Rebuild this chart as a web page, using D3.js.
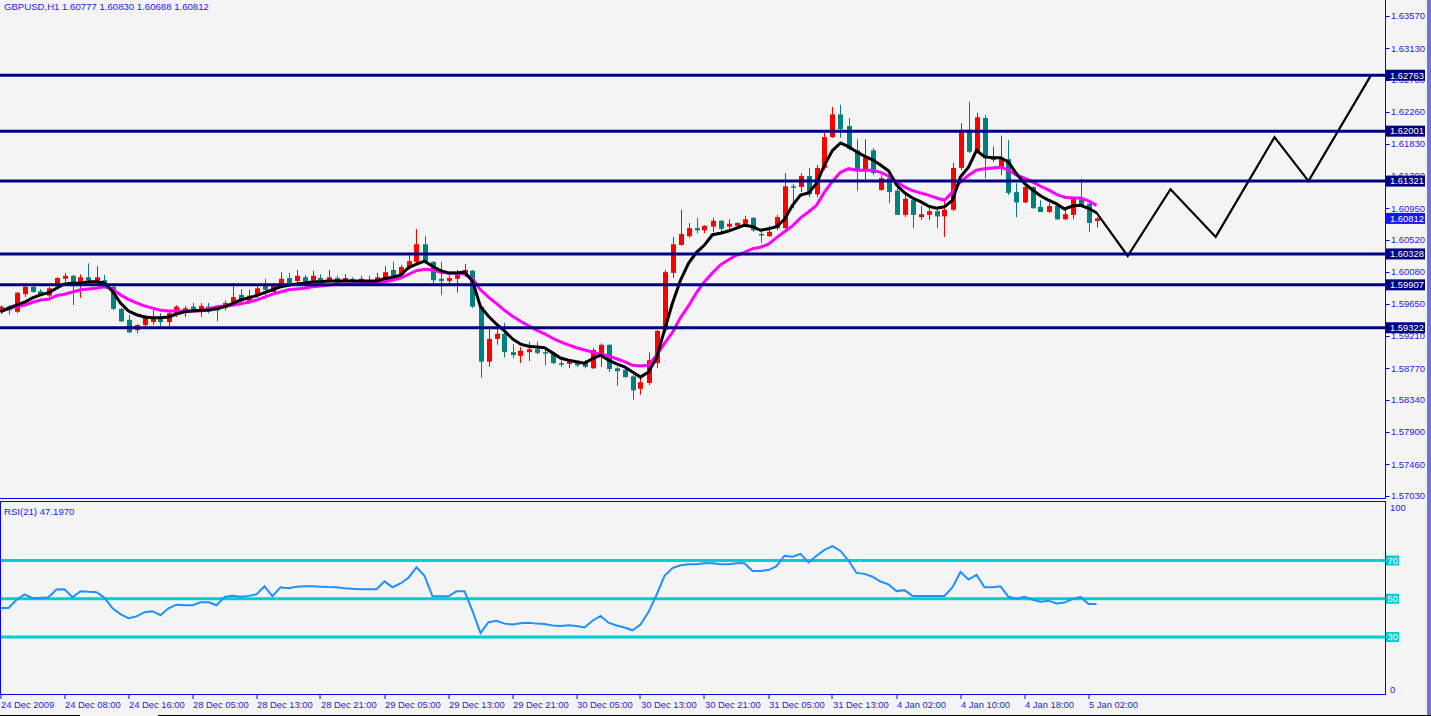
<!DOCTYPE html>
<html><head><meta charset="utf-8">
<script src="https://cdn.jsdelivr.net/npm/d3@7"></script>
<style>
html,body{margin:0;padding:0;background:#f5f4f4;overflow:hidden}
svg{display:block}
text{font-family:"Liberation Sans",Arial,sans-serif;}
</style></head><body><svg id="c" width="1431" height="716"></svg>
<script>
const titleText = "GBPUSD,H1  1.60777 1.60830 1.60688 1.60812";
const rsiTitle = "RSI(21) 47.1970";

const open = [1.5954,1.5961,1.5954,1.5978,1.5988,1.5982,1.5976,1.5989,1.5999,1.6003,
1.5992,1.6001,1.5995,1.5997,1.5988,1.5958,1.5943,1.5929,1.5936,1.5940,
1.5944,1.5940,1.5952,1.5954,1.5961,1.5958,1.5961,1.5961,1.5959,1.5966,
1.5977,1.5967,1.5976,1.5990,1.5981,1.5989,1.6000,1.5996,1.6001,1.5997,
1.6000,1.5996,1.6000,1.5996,1.5999,1.5996,1.5997,1.5996,1.6000,1.6011,
1.6004,1.6014,1.6022,1.6046,1.6022,1.5999,1.5996,1.5999,1.6005,1.6010,
1.5961,1.5886,1.5917,1.5924,1.5899,1.5894,1.5899,1.5903,1.5899,1.5898,
1.5884,1.5883,1.5886,1.5884,1.5877,1.5892,1.5909,1.5877,1.5875,1.5866,
1.5849,1.5857,1.5884,1.5929,1.6007,1.6045,1.6057,1.6068,1.6065,1.6070,
1.6078,1.6070,1.6071,1.6074,1.6082,1.6060,1.6057,1.6068,1.6068,1.6125,
1.6124,1.6139,1.6114,1.6150,1.6192,1.6223,1.6207,1.6174,1.6147,1.6174,
1.6120,1.6136,1.6119,1.6086,1.6106,1.6083,1.6086,1.6091,1.6084,1.6093,
1.6150,1.6202,1.6172,1.6218,1.6161,1.6150,1.6162,1.6117,1.6103,1.6124,
1.6097,1.6090,1.6098,1.6080,1.6086,1.6108,1.6101,1.60777];
const high = [1.5963,1.5963,1.5981,1.5993,1.5993,1.5985,1.5988,1.6001,1.6007,1.6004,
1.6005,1.6020,1.6016,1.6004,1.5990,1.5959,1.5950,1.5937,1.5950,1.5956,
1.5952,1.5956,1.5963,1.5962,1.5966,1.5966,1.5966,1.5962,1.5969,1.5993,
1.5985,1.5984,1.5990,1.5999,1.5993,1.6008,1.6007,1.6011,1.6004,1.6010,
1.6005,1.6011,1.6003,1.6005,1.6001,1.6003,1.6003,1.6007,1.6016,1.6022,
1.6018,1.6031,1.6067,1.6057,1.6023,1.6022,1.6004,1.6011,1.6019,1.6011,
1.5963,1.5933,1.5933,1.5939,1.5910,1.5906,1.5913,1.5913,1.5905,1.5899,
1.5888,1.5888,1.5887,1.5888,1.5905,1.5911,1.5910,1.5879,1.5876,1.5868,
1.5865,1.5899,1.5929,1.6011,1.6056,1.6093,1.6075,1.6082,1.6072,1.6082,
1.6079,1.6080,1.6076,1.6085,1.6083,1.6068,1.6071,1.6086,1.6143,1.6128,
1.6143,1.6150,1.6154,1.6198,1.6233,1.6236,1.6218,1.6189,1.6189,1.6177,
1.6140,1.6138,1.6123,1.6116,1.6109,1.6098,1.6098,1.6097,1.6106,1.6157,
1.6211,1.6240,1.6225,1.6222,1.6179,1.6194,1.6188,1.6129,1.6127,1.6125,
1.6106,1.6102,1.6102,1.6093,1.6110,1.6135,1.6106,1.60830];
const low = [1.5951,1.5950,1.5952,1.5974,1.5980,1.5976,1.5974,1.5988,1.5995,1.5963,
1.5973,1.5993,1.5993,1.5986,1.5956,1.5940,1.5925,1.5925,1.5932,1.5936,
1.5934,1.5934,1.5947,1.5947,1.5954,1.5947,1.5952,1.5941,1.5956,1.5963,
1.5966,1.5965,1.5973,1.5976,1.5980,1.5986,1.5989,1.5993,1.5988,1.5993,
1.5990,1.5993,1.5990,1.5993,1.5992,1.5993,1.5992,1.5993,1.5997,1.6000,
1.6001,1.6011,1.6020,1.6020,1.5993,1.5977,1.5990,1.5980,1.6004,1.5959,
1.5864,1.5879,1.5909,1.5892,1.5891,1.5884,1.5887,1.5896,1.5881,1.5883,
1.5879,1.5877,1.5879,1.5877,1.5876,1.5879,1.5872,1.5853,1.5864,1.5834,
1.5841,1.5854,1.5877,1.5926,1.6000,1.6044,1.6055,1.6061,1.6061,1.6063,
1.6063,1.6065,1.6070,1.6070,1.6063,1.6048,1.6056,1.6065,1.6067,1.6095,
1.6117,1.6110,1.6110,1.6147,1.6191,1.6191,1.6174,1.6119,1.6131,1.6140,
1.6119,1.6102,1.6086,1.6083,1.6068,1.6079,1.6079,1.6068,1.6056,1.6091,
1.6147,1.6170,1.6170,1.6136,1.6158,1.6140,1.6113,1.6083,1.6102,1.6095,
1.6090,1.6089,1.6079,1.6079,1.6080,1.6097,1.6063,1.60688];
const close = [1.5961,1.5956,1.5980,1.5988,1.5981,1.5978,1.5986,1.6000,1.6003,1.5989,
1.6001,1.5997,1.6001,1.5988,1.5958,1.5941,1.5926,1.5936,1.5946,1.5946,
1.5940,1.5952,1.5961,1.5959,1.5956,1.5962,1.5956,1.5956,1.5966,1.5974,
1.5970,1.5976,1.5986,1.5984,1.5990,1.5999,1.5993,1.6003,1.5992,1.6003,
1.5995,1.6001,1.5993,1.6000,1.5995,1.5999,1.5995,1.6001,1.6008,1.6003,
1.6015,1.6023,1.6046,1.6022,1.5997,1.5996,1.6000,1.6004,1.6011,1.5961,
1.5886,1.5917,1.5924,1.5899,1.5895,1.5901,1.5903,1.5898,1.5898,1.5884,
1.5883,1.5886,1.5881,1.5879,1.5902,1.5909,1.5876,1.5873,1.5865,1.5847,
1.5858,1.5888,1.5928,1.6008,1.6046,1.6060,1.6068,1.6065,1.6071,1.6078,
1.6067,1.6074,1.6075,1.6080,1.6065,1.6059,1.6063,1.6083,1.6125,1.6124,
1.6139,1.6114,1.6150,1.6192,1.6223,1.6203,1.6176,1.6147,1.6164,1.6143,
1.6136,1.6117,1.6086,1.6108,1.6086,1.6087,1.6091,1.6084,1.6093,1.6150,
1.6202,1.6172,1.6219,1.6164,1.6165,1.6164,1.6116,1.6103,1.6124,1.6095,
1.6090,1.6098,1.6080,1.6087,1.6108,1.6099,1.6075,1.60812];

// fast moving average (black) and slow moving average (magenta), one value per bar
const maFast = [1.5954,1.5959,1.5963,1.5967,1.5973,1.5977,1.5980,1.5986,1.5992,1.5993,
1.5993,1.5995,1.5995,1.5993,1.5982,1.5966,1.5955,1.5950,1.5947,1.5946,
1.5946,1.5947,1.5951,1.5954,1.5955,1.5956,1.5956,1.5958,1.5961,1.5965,
1.5970,1.5973,1.5976,1.5980,1.5984,1.5988,1.5990,1.5992,1.5993,1.5995,
1.5995,1.5996,1.5996,1.5996,1.5996,1.5996,1.5996,1.5996,1.5999,1.6001,
1.6004,1.6014,1.6019,1.6023,1.6016,1.6010,1.6007,1.6007,1.6008,1.5996,
1.5961,1.5948,1.5937,1.5928,1.5917,1.5910,1.5907,1.5906,1.5905,1.5898,
1.5891,1.5888,1.5886,1.5884,1.5890,1.5895,1.5888,1.5883,1.5879,1.5872,
1.5865,1.5872,1.5891,1.5929,1.5966,1.5997,1.6020,1.6035,1.6045,1.6059,
1.6061,1.6064,1.6068,1.6072,1.6070,1.6065,1.6067,1.6070,1.6080,1.6099,
1.6113,1.6116,1.6129,1.6154,1.6174,1.6184,1.6179,1.6172,1.6166,1.6161,
1.6154,1.6146,1.6127,1.6116,1.6109,1.6104,1.6098,1.6095,1.6097,1.6106,
1.6138,1.6151,1.6174,1.6165,1.6164,1.6164,1.6158,1.6142,1.6129,1.6120,
1.6112,1.6106,1.6101,1.6094,1.6098,1.6099,1.6095,1.6089];
const maSlow = [1.5955,1.5958,1.5961,1.5963,1.5967,1.5970,1.5971,1.5976,1.5978,1.5981,
1.5984,1.5985,1.5986,1.5988,1.5985,1.5977,1.5971,1.5966,1.5962,1.5959,
1.5956,1.5955,1.5955,1.5955,1.5955,1.5955,1.5958,1.5961,1.5962,1.5963,
1.5965,1.5967,1.5970,1.5974,1.5978,1.5981,1.5984,1.5985,1.5986,1.5988,
1.5989,1.5990,1.5992,1.5992,1.5992,1.5993,1.5993,1.5993,1.5995,1.5997,
1.6000,1.6005,1.6010,1.6012,1.6011,1.6008,1.6007,1.6007,1.6005,1.5999,
1.5984,1.5974,1.5965,1.5956,1.5948,1.5941,1.5935,1.5929,1.5924,1.5918,
1.5913,1.5909,1.5905,1.5902,1.5899,1.5896,1.5894,1.5890,1.5886,1.5881,
1.5880,1.5881,1.5895,1.5911,1.5926,1.5946,1.5962,1.5980,1.5995,1.6007,
1.6018,1.6025,1.6031,1.6035,1.6040,1.6042,1.6046,1.6055,1.6063,1.6071,
1.6082,1.6090,1.6099,1.6117,1.6132,1.6144,1.6149,1.6147,1.6147,1.6147,
1.6144,1.6139,1.6131,1.6124,1.6119,1.6116,1.6113,1.6109,1.6106,1.6117,
1.6131,1.6140,1.6147,1.6149,1.6150,1.6151,1.6147,1.6140,1.6136,1.6131,
1.6125,1.6120,1.6114,1.6110,1.6109,1.6109,1.6105,1.6099];

const rsi = [45.2,45.2,49.5,52.3,50.3,50.5,50.8,54.8,55.0,50.8,
53.9,53.6,53.4,50.5,45.0,42.0,39.8,40.8,43.0,43.5,
41.4,45.0,46.9,46.6,46.6,48.2,48.2,46.6,51.0,51.6,
51.0,51.5,52.3,56.5,51.3,56.0,55.5,56.3,56.5,56.5,
56.3,56.1,56.0,55.5,55.2,55.0,55.0,55.0,59.1,56.0,
58.0,61.0,66.4,62.0,51.3,51.3,51.3,53.9,53.9,43.5,
32.0,37.7,38.5,37.0,36.5,37.2,37.5,37.0,36.8,36.0,
35.8,36.2,35.8,35.0,38.5,41.0,37.5,36.0,35.0,33.5,
36.5,43.0,52.0,62.0,66.0,67.5,68.0,68.0,68.5,68.5,
68.0,68.0,68.5,68.5,64.5,64.5,65.0,67.0,72.5,72.0,
73.5,69.0,72.5,75.5,77.5,75.0,70.0,63.5,63.0,61.5,
59.0,57.5,54.0,54.5,51.5,51.5,51.5,51.5,51.5,56.0,
64.0,60.0,62.5,56.0,56.0,56.5,51.0,50.0,51.0,49.5,
48.5,49.0,47.5,48.0,49.8,51.0,47.2,47.2];

const levels = [1.62763,1.62001,1.61321,1.60328,1.59907,1.59322];
const lastPrice = 1.60812;
const priceTicks = [1.63570,1.63130,1.62700,1.62260,1.61830,1.61390,1.60950,1.60520,
1.60080,1.59650,1.59210,1.58770,1.58340,1.57900,1.57460,1.57030];
const rsiLevels = [70,50,30];
const timeLabels = ["24 Dec 2009","24 Dec 08:00","24 Dec 16:00","28 Dec 05:00","28 Dec 13:00",
"28 Dec 21:00","29 Dec 05:00","29 Dec 13:00","29 Dec 21:00","30 Dec 05:00","30 Dec 13:00",
"30 Dec 21:00","31 Dec 05:00","31 Dec 13:00","4 Jan 02:00","4 Jan 10:00","4 Jan 18:00","5 Jan 02:00"];
const timeIdx = [0,8,16,24,32,40,48,56,64,72,80,88,96,104,112,120,128,136];
// hand-drawn projection zigzag (bar position, price)
const projIdx = [137,140.9,146.25,151.9,159.25,163.5,171.25];
const projPrice = [1.6089,1.6030,1.6121,1.6056,1.6192,1.6132,1.6275];

const svg = d3.select("#c");
const W = 1431, H = 716;
const axisX = 1385.5;
const txtCol = "#1a1aee";

svg.append("rect").attr("width",W).attr("height",H).attr("fill","#f5f4f4");

const x = d3.scaleLinear().domain([0,137]).range([0.5,1096.5]);
const y = d3.scaleLinear().domain([1.57030,1.63570]).range([496,16]);
const yr = d3.scaleLinear().domain([0,100]).range([694.4,503.1]);

const bars = d3.range(open.length).map(i=>({i,o:open[i],h:high[i],l:low[i],c:close[i]}));
const colUp = "#ff0000", colDn = "#008080";
const gC = svg.append("g");
gC.selectAll("line.w").data(bars).join("line")
  .attr("x1",d=>Math.round(x(d.i))+0.5).attr("x2",d=>Math.round(x(d.i))+0.5)
  .attr("y1",d=>y(d.h)).attr("y2",d=>y(d.l))
  .attr("stroke",d=>d.c>=d.o?colUp:colDn).attr("stroke-width",1);
gC.selectAll("rect.b").data(bars).join("rect")
  .attr("x",d=>Math.round(x(d.i))-2).attr("width",5)
  .attr("y",d=>y(Math.max(d.o,d.c)))
  .attr("height",d=>Math.max(1.5,Math.abs(y(d.o)-y(d.c))))
  .attr("fill",d=>d.c>=d.o?colUp:colDn);

const line = d3.line().x((d,i)=>x(i)).y(d=>y(d));
svg.append("path").attr("d",line(maSlow)).attr("fill","none").attr("stroke","#ff00ff").attr("stroke-width",3);
svg.append("path").attr("d",line(maFast)).attr("fill","none").attr("stroke","#000000").attr("stroke-width",3);

// projection
const pl = d3.line().x((d,i)=>x(projIdx[i])).y(d=>y(d));
svg.append("path").attr("d",pl(projPrice)).attr("fill","none").attr("stroke","#000").attr("stroke-width",2.2);

// horizontal levels
svg.selectAll("line.lv").data(levels).join("line")
  .attr("x1",0).attr("x2",axisX).attr("y1",d=>y(d)).attr("y2",d=>y(d))
  .attr("stroke","#000080").attr("stroke-width",3);

// frames
svg.append("line").attr("x1",axisX).attr("x2",axisX).attr("y1",0).attr("y2",498.5).attr("stroke","#0000ff");
svg.append("line").attr("x1",0).attr("x2",axisX).attr("y1",498.5).attr("y2",498.5).attr("stroke","#0000ff");
svg.append("rect").attr("x",0.5).attr("y",501.5).attr("width",axisX-0.5).attr("height",193)
  .attr("fill","none").attr("stroke","#0000ff");

// price axis
const ga = svg.append("g");
ga.selectAll("line").data(priceTicks).join("line")
  .attr("x1",axisX).attr("x2",axisX+4).attr("y1",d=>Math.round(y(d))+0.5).attr("y2",d=>Math.round(y(d))+0.5)
  .attr("stroke","#0000ff");
ga.selectAll("text").data(priceTicks).join("text")
  .attr("x",1391).attr("y",d=>y(d)).attr("dy","0.35em")
  .attr("font-size","9.4px").attr("fill",txtCol).text(d=>d.toFixed(5));

// level labels
const gl = svg.append("g");
gl.selectAll("rect").data(levels).join("rect")
  .attr("x",1386).attr("y",d=>y(d)-5.5).attr("width",39).attr("height",11).attr("fill","#000080");
gl.selectAll("text").data(levels).join("text")
  .attr("x",1390).attr("y",d=>y(d)).attr("dy","0.35em").attr("font-size","9.4px")
  .attr("fill","#fff").text(d=>d.toFixed(5));
svg.append("rect").attr("x",1386).attr("y",y(lastPrice)-5.5).attr("width",39).attr("height",11).attr("fill","#1515ff");
svg.append("text").attr("x",1390).attr("y",y(lastPrice)).attr("dy","0.35em").attr("font-size","9.4px")
  .attr("fill","#fff").text(lastPrice.toFixed(5));

// RSI
svg.selectAll("line.rl").data(rsiLevels).join("line")
  .attr("x1",1).attr("x2",axisX).attr("y1",d=>yr(d)).attr("y2",d=>yr(d))
  .attr("stroke","#00ced1").attr("stroke-width",3);
const rl = d3.line().x((d,i)=>x(i)).y(d=>yr(d));
svg.append("path").attr("d",rl(rsi)).attr("fill","none").attr("stroke","#1e90ff").attr("stroke-width",2);
svg.selectAll("rect.rb").data(rsiLevels).join("rect")
  .attr("x",1386).attr("y",d=>yr(d)-5).attr("width",13).attr("height",10).attr("fill","#00ced1");
svg.selectAll("text.rt").data(rsiLevels).join("text")
  .attr("x",1387.5).attr("y",d=>yr(d)).attr("dy","0.35em").attr("font-size","9.4px").attr("fill","#fff").text(d=>d);
svg.append("text").attr("x",1390).attr("y",yr(100)+5).attr("dy","0.35em").attr("font-size","9.4px").attr("fill",txtCol).text("100");
svg.append("text").attr("x",1390).attr("y",yr(0)-5).attr("dy","0.35em").attr("font-size","9.4px").attr("fill",txtCol).text("0");

// time axis
const gt = svg.append("g");
gt.selectAll("line").data(timeIdx).join("line")
  .attr("x1",d=>Math.round(x(d))).attr("x2",d=>Math.round(x(d)))
  .attr("y1",694.5).attr("y2",699).attr("stroke","#0000ff");
gt.selectAll("text").data(timeIdx).join("text")
  .attr("x",d=>x(d)+0.5).attr("y",704.5).attr("dy","0.35em").attr("font-size","9.4px")
  .attr("fill",txtCol).text((d,i)=>timeLabels[i]);

// titles
svg.append("text").attr("x",4).attr("y",6.5).attr("dy","0.35em").attr("font-size","9.6px").attr("fill",txtCol).text(titleText);
svg.append("text").attr("x",4).attr("y",511.5).attr("dy","0.35em").attr("font-size","9.6px").attr("fill",txtCol).text(rsiTitle);

// right strip and bottom edge
svg.append("rect").attr("x",1427).attr("y",0).attr("width",4).attr("height",H).attr("fill","#7272d6");
svg.append("line").attr("x1",0).attr("x2",80).attr("y1",715.5).attr("y2",715.5).attr("stroke","#000");
svg.append("line").attr("x1",158).attr("x2",W).attr("y1",715.5).attr("y2",715.5).attr("stroke","#000");
</script></body></html>
